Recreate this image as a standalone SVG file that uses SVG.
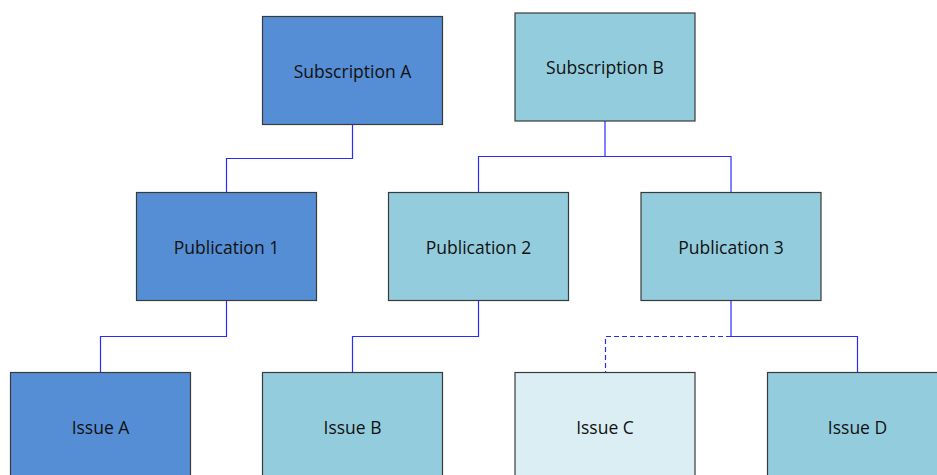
<svg xmlns="http://www.w3.org/2000/svg" width="937" height="475" viewBox="0 0 937 475">
  <style>
    .box { stroke: #3a3a3a; stroke-width: 1.2; }
    .dark { fill: #558ed5; }
    .teal { fill: #93cddd; }
    .pale { fill: #dbeef4; }
    .lbl { font-family: "Open Sans", "Liberation Sans", sans-serif; font-size: 17.5px; fill: #111; text-anchor: middle; dominant-baseline: central; }
    .link { fill: none; stroke: #2b2bff; stroke-width: 1.2; }
    .dashed { stroke-dasharray: 5 3; }
  </style>
  <rect width="937" height="475" fill="#ffffff"/>

  <g id="connectors">
    <path class="link" d="M352.5 124.5 V158.5 H226.5 V192.5"/>
    <path class="link" d="M605 121 V156.5 H478.5 V192.5"/>
    <path class="link" d="M605 156.5 H731 V192.5"/>
    <path class="link" d="M226.5 300.5 V336.5 H100.5 V372.5"/>
    <path class="link" d="M478.5 300.5 V336.5 H352.5 V372.5"/>
    <path class="link" d="M731 300.5 V336.5 H857.5 V372.5"/>
    <path class="link dashed" d="M731 336.5 H605.5 V372.5"/>
  </g>

  <g id="subscription-a">
    <rect class="box dark" x="262.5" y="16.5" width="180" height="108"/>
    <text class="lbl" x="352.5" y="70.5">Subscription A</text>
  </g>
  <g id="subscription-b">
    <rect class="box teal" x="515" y="13" width="180" height="108"/>
    <text class="lbl" x="605" y="67">Subscription B</text>
  </g>

  <g id="publication-1">
    <rect class="box dark" x="136.5" y="192.5" width="180" height="108"/>
    <text class="lbl" x="226.5" y="246.5">Publication 1</text>
  </g>
  <g id="publication-2">
    <rect class="box teal" x="388.5" y="192.5" width="180" height="108"/>
    <text class="lbl" x="478.5" y="246.5">Publication 2</text>
  </g>
  <g id="publication-3">
    <rect class="box teal" x="641" y="192.5" width="180" height="108"/>
    <text class="lbl" x="731" y="246.5">Publication 3</text>
  </g>

  <g id="issue-a">
    <rect class="box dark" x="10.5" y="372.5" width="180" height="108"/>
    <text class="lbl" x="100.5" y="426.5">Issue A</text>
  </g>
  <g id="issue-b">
    <rect class="box teal" x="262.5" y="372.5" width="180" height="108"/>
    <text class="lbl" x="352.5" y="426.5">Issue B</text>
  </g>
  <g id="issue-c">
    <rect class="box pale" x="515" y="372.5" width="180" height="108"/>
    <text class="lbl" x="605" y="426.5">Issue C</text>
  </g>
  <g id="issue-d">
    <rect class="box teal" x="767.5" y="372.5" width="180" height="108"/>
    <text class="lbl" x="857.5" y="426.5">Issue D</text>
  </g>
</svg>
